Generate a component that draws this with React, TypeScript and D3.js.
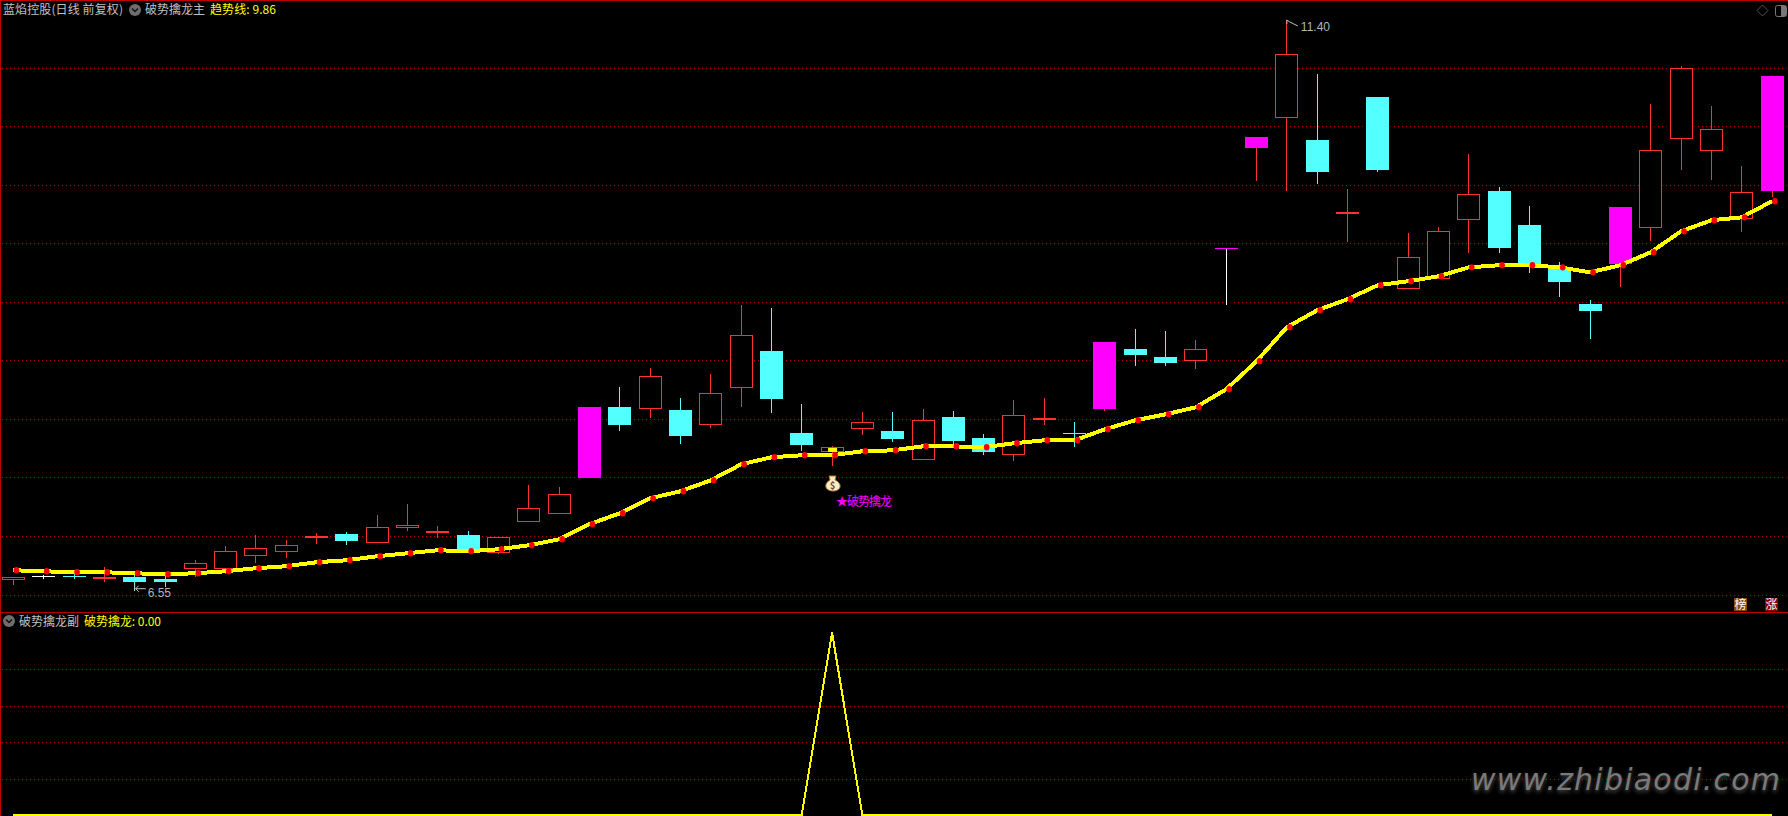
import React from "react";
import * as d3 from "d3";

const opens = [6.647,6.667,6.673,6.658,6.667,6.652,6.735,6.735,6.848,6.882,7.007,7.032,6.958,7.086,7.052,7.024,6.873,7.137,7.205,7.508,8.111,8.097,8.086,7.961,8.275,8.587,7.890,7.729,7.927,7.907,7.663,8.026,7.848,7.706,8.009,7.888,8.094,8.604,8.536,8.505,9.460,10.312,10.570,10.380,9.760,10.746,9.117,9.202,9.703,9.947,9.658,9.284,8.987,9.327,9.635,10.391,10.289,9.712,9.947];
const closes = [6.664,6.667,6.673,6.658,6.624,6.624,6.777,6.885,6.910,6.936,7.007,6.973,7.089,7.106,7.052,6.896,7.004,7.250,7.369,8.111,7.958,8.372,7.865,8.228,8.721,8.179,7.788,7.763,7.981,7.839,7.998,7.822,7.729,8.041,8.009,7.888,8.664,8.553,8.485,8.602,9.460,10.406,11.109,10.108,9.760,10.125,9.383,9.604,9.919,9.462,9.318,9.174,8.927,9.811,10.293,10.990,10.471,9.936,10.924];
const highs = [6.664,6.684,6.692,6.749,6.684,6.673,6.811,6.930,7.021,6.979,7.041,7.049,7.194,7.287,7.100,7.058,7.004,7.448,7.429,8.111,8.281,8.443,8.188,8.392,8.978,8.953,8.137,7.780,8.069,8.069,8.094,8.077,7.882,8.171,8.188,7.981,8.664,8.774,8.757,8.681,9.460,10.406,11.400,10.941,9.964,10.746,9.590,9.638,10.261,9.981,9.819,9.344,9.021,9.811,10.686,11.009,10.669,10.159,10.924];
const lows = [6.599,6.650,6.650,6.624,6.550,6.579,6.667,6.695,6.786,6.828,6.950,6.939,6.958,7.058,7.001,6.896,6.862,7.137,7.205,7.508,7.907,8.018,7.797,7.933,8.111,8.060,7.737,7.610,7.873,7.814,7.663,7.780,7.703,7.652,7.958,7.771,8.077,8.460,8.460,8.434,8.978,10.032,9.947,10.006,9.513,10.108,9.117,9.202,9.420,9.420,9.250,9.046,8.689,9.131,9.522,10.125,10.040,9.598,9.896];
const trend = [6.724,6.715,6.707,6.707,6.698,6.690,6.698,6.715,6.741,6.758,6.792,6.809,6.843,6.868,6.894,6.885,6.902,6.936,6.987,7.115,7.208,7.335,7.395,7.488,7.624,7.684,7.701,7.701,7.735,7.743,7.777,7.777,7.769,7.803,7.828,7.828,7.922,7.998,8.049,8.109,8.262,8.500,8.789,8.933,9.027,9.146,9.180,9.222,9.298,9.316,9.316,9.298,9.256,9.316,9.426,9.604,9.698,9.723,9.860];
const signalBars = [19,36,41,53,58];
const redDoji = [3,10,14,34,44];
const signalIndex = 27;
const signal = trend.map((_, i) => (i === signalIndex ? 1 : 0));
const mainGridPrices = [10.988,10.495,9.994,9.501,9.000,8.506,8.005,7.512,7.011,6.509];
const subGridValues = [0.8,0.6,0.4,0.2];
const maxLabel = "11.40";
const minLabel = "6.55";
const mainTitle = ["蓝焰控股(日线 前复权)", "破势擒龙主", "趋势线: 9.86"];
const subTitle = ["破势擒龙副", "破势擒龙: 0.00"];
const signalText = "★破势擒龙";
const watermark = "www.zhibiaodi.com";

const W = 1788, H = 816;
const RED = "#ff3232", CYAN = "#54ffff", MAG = "#ff00ff", YEL = "#ffff00", GRID = "#a80000", FRAME = "#c00000", GREY = "#c0c0c0";
const FONT = "'Noto Sans CJK SC','Liberation Sans',sans-serif";

const x = d3.scaleLinear().domain([0, 58]).range([13.4, 1772]);
const y = d3.scaleLinear().domain([6.55, 11.4]).range([590.7, 20]);
const ySub = d3.scaleLinear().domain([0, 1]).range([815, 632.6]);
const bw = 23;

function Candle({ i }: { i: number }) {
  const o = opens[i], c = closes[i], h = highs[i], l = lows[i];
  const cx = Math.floor(x(i));
  const top = y(Math.max(o, c)), bot = y(Math.min(o, c));
  const isSig = signalBars.includes(i);
  const isT = i === 40;
  const doji = bot - top < 1;
  const thick = redDoji.includes(i);
  const up = c > o || thick;
  const color = isT || i === 1 ? "#ffffff" : isSig || up ? RED : CYAN;
  const left = cx + 0.5 - bw / 2;
  const wick = <line x1={cx + 0.5} x2={cx + 0.5} y1={y(h)} y2={y(l)} stroke={color} strokeWidth={1} />;
  if (doji) {
    return (
      <g>
        {wick}
        <rect x={left} width={bw} y={top - (thick ? 1 : 0.5)} height={thick ? 2 : 1} fill={isT ? MAG : color} />
      </g>
    );
  }
  if (isSig) {
    return (
      <g>
        {wick}
        <rect x={left} width={bw} y={top} height={bot - top} fill={MAG} />
      </g>
    );
  }
  if (up) {
    return (
      <g>
        {wick}
        <rect x={left + 0.5} width={bw - 1} y={top} height={bot - top} fill="#000" stroke={RED} strokeWidth={1} />
      </g>
    );
  }
  return (
    <g>
      {wick}
      <rect x={left} width={bw} y={top} height={bot - top} fill={CYAN} />
    </g>
  );
}

function Chevron({ cx, cy }: { cx: number; cy: number }) {
  return (
    <g>
      <circle cx={cx} cy={cy} r={6} fill="#6e6e6e" />
      <path d={`M${cx - 3} ${cy - 1.5}L${cx} ${cy + 1.5}L${cx + 3} ${cy - 1.5}`} fill="none" stroke="#111" strokeWidth={1.5} />
    </g>
  );
}

export default function App() {
  const mainLine = d3.line<number>().x((_, i) => x(i)).y(d => y(d))(trend)!;
  const subLine = d3.line<number>().x((_, i) => x(i)).y(d => ySub(d))(signal)!;
  const sx = x(signalIndex);
  return (
    <svg width={W} height={H} viewBox={`0 0 ${W} ${H}`} style={{ position: "fixed", left: 0, top: 0, display: "block", background: "#000" }}>
      <rect width={W} height={H} fill="#000" />
      <defs>
        <filter id="wm" x="-5%" y="-30%" width="110%" height="160%">
          <feGaussianBlur stdDeviation="2" />
        </filter>
      </defs>
      {/* frame */}
      <rect x={0} y={0} width={W} height={1} fill={FRAME} />
      <rect x={0} y={0} width={1} height={H} fill={FRAME} />
      <rect x={0} y={612} width={W} height={1} fill={FRAME} />
      {/* grid */}
      <g stroke={GRID} strokeWidth={1} strokeDasharray="1 3" shapeRendering="crispEdges">
        {mainGridPrices.map(p => <line key={p} x1={2} x2={W} y1={Math.floor(y(p)) + 0.5} y2={Math.floor(y(p)) + 0.5} />)}
        {subGridValues.map(v => <line key={v} x1={2} x2={W} y1={Math.round(ySub(v)) + 0.5} y2={Math.round(ySub(v)) + 0.5} />)}
      </g>
      {/* candles */}
      <g shapeRendering="crispEdges">
        {opens.map((_, i) => <Candle key={i} i={i} />)}
      </g>
      {/* trend */}
      <path d={mainLine} fill="none" stroke={YEL} strokeWidth={4} shapeRendering="crispEdges" />
      {trend.map((v, i) => <ellipse key={i} cx={x(i) + 3} cy={y(v)} rx={2.8} ry={3.2} fill="#ff0000" />)}
      {/* signal marks */}
      <rect x={sx - 4} y={y(opens[signalIndex]) - 4} width={9} height={4} fill={YEL} />
      <g>
        <path d={`M${sx - 3} ${476}L${sx + 4} ${476}L${sx + 3} ${480}C${sx + 11} ${484} ${sx + 9} ${491} ${sx + 1} ${491}C${sx - 7} ${491} ${sx - 9} ${484} ${sx - 2} ${480}Z`} fill="#f8edc4" stroke="#a87830" strokeWidth={1} />
        <text x={sx + 0.5} y={489} textAnchor="middle" fontSize={9} fontWeight={700} fontFamily={FONT} fill="#7a4030">$</text>
      </g>
      <text x={836} y={506} fontSize={12} textLength={56} lengthAdjust="spacing" fontFamily={FONT} fill={MAG}>{signalText}</text>
      {/* extremes */}
      <g fill="#b4b4b4" fontSize={12} fontFamily="'Liberation Sans',sans-serif">
        <path d={`M${x(4)} ${y(6.55)}L${x(4)} ${y(6.55) - 8}M${x(4) + 1} ${y(6.55) - 2}L${x(4) + 11} ${y(6.55)- 2}M${x(4) + 1} ${y(6.55) - 2}l3 -3M${x(4) + 1} ${y(6.55) - 2}l3 3`} stroke={GREY} fill="none" />
        <text x={x(4) + 13} y={y(6.55) + 6}>{minLabel}</text>
        <path d={`M${x(42)} ${y(11.4) + 4}L${x(42)} ${y(11.4)}L${x(42) + 3} ${y(11.4) + 2}L${x(42) + 11} ${y(11.4) + 6}`} stroke={GREY} fill="none" />
        <text x={x(42) + 14} y={y(11.4) + 11}>{maxLabel}</text>
      </g>
      {/* sub pane */}
      <path d={subLine} fill="none" stroke={YEL} strokeWidth={2} shapeRendering="crispEdges" />
      {/* headers */}
      <g fontSize={12} fontFamily={FONT}>
        <text x={3} y={14} fill={GREY} textLength={120} lengthAdjust="spacing">{mainTitle[0]}</text>
        <Chevron cx={135} cy={10} />
        <text x={145} y={14} fill={GREY}>{mainTitle[1]}</text>
        <text x={210} y={14} fill={YEL} textLength={66} lengthAdjust="spacing">{mainTitle[2]}</text>
        <Chevron cx={9} cy={621} />
        <text x={19} y={626} fill={GREY}>{subTitle[0]}</text>
        <text x={84} y={626} fill={YEL} textLength={77} lengthAdjust="spacing">{subTitle[1]}</text>
      </g>
      {/* top right icons */}
      <path d="M1762.5 5L1768 10.5L1762.5 16L1757 10.5Z" fill="none" stroke="#555" />
      <rect x={1775.5} y={5.5} width={11} height={11} rx={2} fill="none" stroke="#777" />
      <rect x={1781} y={6} width={5} height={10} fill="#777" />
      {/* badges */}
      <rect x={1734} y={598} width={13} height={13} fill="#8a4a00" />
      <text x={1740.5} y={609} textAnchor="middle" fontSize={12} fontFamily={FONT} fill="#fff">榜</text>
      <rect x={1765} y={598} width={13} height={13} fill="#8a0000" />
      <text x={1771.5} y={609} textAnchor="middle" fontSize={12} fontFamily={FONT} fill="#fff">涨</text>
      {/* watermark */}
      <text x={1471} y={792} fontSize={30} fontStyle="italic" fontFamily="'DejaVu Sans',sans-serif" textLength={309} lengthAdjust="spacing" fill="#505050" filter="url(#wm)">{watermark}</text>
      <text x={1471} y={790} fontSize={30} fontStyle="italic" fontFamily="'DejaVu Sans',sans-serif" textLength={309} lengthAdjust="spacing" fill="#7a7a7a">{watermark}</text>
    </svg>
  );
}
